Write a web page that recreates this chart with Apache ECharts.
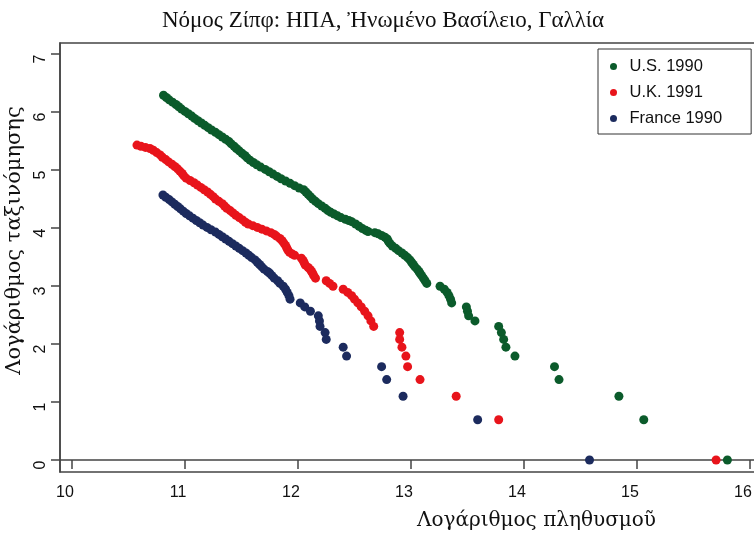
<!DOCTYPE html>
<html><head><meta charset="utf-8">
<script src="https://cdn.jsdelivr.net/npm/echarts@6/dist/echarts.min.js"></script>
<style>html,body{margin:0;padding:0;background:#fff}#c{width:754px;height:535px}</style>
</head><body><div id="c"></div>
<script>
const titleText = 'Νόμος Ζίπφ: ΗΠΑ, Ἠνωμένο Βασίλειο, Γαλλία';
const xName = 'Λογάριθμος πληθυσμοῦ';
const yName = 'Λογάριθμος ταξινόμησης';
const seriesNames = ['U.S. 1990', 'U.K. 1991', 'France 1990'];
const xTicks = [10, 11, 12, 13, 14, 15, 16];
const yTicks = [0, 1, 2, 3, 4, 5, 6, 7];

// [log population, log rank]
const usData = [[10.81,6.29],[10.835,6.25],[10.86,6.21],[10.89,6.17],[10.92,6.13],[10.945,6.09],[10.97,6.05],[11.00,6.01],[11.03,5.97],[11.06,5.93],[11.085,5.89],[11.115,5.85],[11.145,5.81],[11.175,5.77],[11.205,5.73],[11.235,5.69],[11.27,5.65],[11.30,5.61],[11.33,5.57],[11.36,5.53],[11.39,5.49],[11.41,5.45],[11.435,5.41],[11.455,5.37],[11.48,5.33],[11.505,5.29],[11.53,5.25],[11.55,5.21],[11.575,5.17],[11.605,5.13],[11.635,5.09],[11.67,5.05],[11.71,5.01],[11.745,4.97],[11.78,4.93],[11.815,4.89],[11.85,4.85],[11.89,4.81],[11.93,4.77],[11.97,4.73],[12.01,4.69],[12.05,4.66],[12.07,4.62],[12.09,4.58],[12.11,4.54],[12.13,4.50],[12.155,4.46],[12.18,4.42],[12.21,4.38],[12.24,4.34],[12.265,4.30],[12.29,4.27],[12.32,4.24],[12.35,4.21],[12.38,4.18],[12.42,4.15],[12.45,4.13],[12.475,4.11],[12.51,4.07],[12.54,4.03],[12.57,3.99],[12.60,3.96],[12.62,3.94],[12.68,3.92],[12.71,3.90],[12.74,3.87],[12.77,3.84],[12.79,3.81],[12.80,3.77],[12.815,3.73],[12.835,3.69],[12.865,3.65],[12.89,3.61],[12.92,3.57],[12.945,3.53],[12.97,3.49],[12.99,3.45],[13.005,3.41],[13.02,3.37],[13.035,3.33],[13.055,3.29],[13.07,3.25],[13.08,3.219],[13.095,3.178],[13.11,3.135],[13.125,3.091],[13.14,3.045],[13.257,2.996],[13.295,2.944],[13.32,2.890],[13.336,2.833],[13.35,2.773],[13.36,2.708],[13.49,2.639],[13.50,2.565],[13.51,2.485],[13.566,2.398],[13.776,2.303],[13.80,2.197],[13.82,2.079],[13.84,1.946],[13.92,1.792],[14.27,1.609],[14.31,1.386],[14.84,1.099],[15.06,0.693],[15.80,0]];

const ukData = [[10.575,5.43],[10.61,5.41],[10.65,5.39],[10.69,5.37],[10.72,5.34],[10.75,5.30],[10.78,5.26],[10.80,5.22],[10.83,5.18],[10.855,5.14],[10.885,5.10],[10.91,5.06],[10.935,5.02],[10.955,4.98],[10.975,4.94],[10.99,4.90],[11.01,4.86],[11.045,4.82],[11.08,4.78],[11.11,4.74],[11.14,4.70],[11.17,4.66],[11.20,4.62],[11.225,4.58],[11.25,4.54],[11.27,4.50],[11.30,4.46],[11.33,4.42],[11.35,4.38],[11.37,4.34],[11.40,4.30],[11.425,4.26],[11.45,4.22],[11.48,4.18],[11.51,4.14],[11.535,4.10],[11.56,4.07],[11.60,4.04],[11.64,4.01],[11.68,3.98],[11.72,3.95],[11.76,3.92],[11.79,3.89],[11.81,3.86],[11.84,3.82],[11.86,3.78],[11.875,3.74],[11.89,3.70],[11.90,3.66],[11.91,3.62],[11.925,3.58],[11.95,3.55],[11.97,3.53],[12.03,3.48],[12.045,3.44],[12.055,3.40],[12.065,3.36],[12.09,3.32],[12.11,3.28],[12.12,3.25],[12.13,3.219],[12.14,3.178],[12.155,3.135],[12.25,3.091],[12.28,3.045],[12.31,2.996],[12.40,2.944],[12.44,2.890],[12.475,2.833],[12.50,2.773],[12.53,2.708],[12.56,2.639],[12.59,2.565],[12.62,2.485],[12.645,2.398],[12.67,2.303],[12.90,2.197],[12.90,2.079],[12.92,1.946],[12.955,1.792],[12.97,1.609],[13.08,1.386],[13.40,1.099],[13.776,0.693],[15.70,0]];

const frData = [[10.805,4.57],[10.83,4.53],[10.86,4.49],[10.885,4.45],[10.91,4.41],[10.935,4.37],[10.96,4.33],[10.985,4.29],[11.01,4.25],[11.04,4.21],[11.07,4.17],[11.10,4.13],[11.13,4.09],[11.16,4.05],[11.195,4.01],[11.23,3.97],[11.27,3.93],[11.30,3.89],[11.33,3.85],[11.36,3.81],[11.39,3.77],[11.42,3.73],[11.45,3.69],[11.48,3.65],[11.51,3.61],[11.54,3.57],[11.565,3.53],[11.59,3.49],[11.62,3.45],[11.64,3.41],[11.66,3.37],[11.68,3.33],[11.70,3.29],[11.73,3.25],[11.75,3.219],[11.77,3.178],[11.79,3.135],[11.82,3.091],[11.84,3.045],[11.87,2.996],[11.89,2.944],[11.905,2.890],[11.92,2.833],[11.93,2.773],[12.02,2.708],[12.06,2.639],[12.11,2.565],[12.18,2.485],[12.19,2.398],[12.195,2.303],[12.24,2.197],[12.25,2.079],[12.40,1.946],[12.43,1.792],[12.74,1.609],[12.785,1.386],[12.93,1.099],[13.59,0.693],[14.58,0]];

const colors = ['#0b5b2b', '#e8141b', '#1c2b5e'];
const serif = '"Liberation Serif", "DejaVu Serif", serif';
const serifAxis = '"DejaVu Serif", "Liberation Serif", serif';
const sans = '"Liberation Sans", Arial, sans-serif';
const axisCol = '#444';

const chart = echarts.init(document.getElementById('c'), null, {renderer: 'canvas'});
chart.setOption({
  animation: false,
  backgroundColor: '#fff',
  color: colors,
  title: {
    text: titleText, left: 378, top: 4, textAlign: 'center',
    textStyle: {fontFamily: serif, fontSize: 23, fontWeight: 'normal', color: '#111'}
  },
  legend: {
    orient: 'vertical', left: 598, top: 49,
    backgroundColor: '#fff', borderColor: '#333', borderWidth: 1,
    padding: [9, 29, 7, 12], itemGap: 9,
    itemWidth: 22, itemHeight: 7, icon: 'circle',
    textStyle: {fontFamily: sans, fontSize: 16.5, color: '#111', lineHeight: 16},
    data: seriesNames
  },
  grid: {left: 60, top: 43, right: -3, bottom: 63, show: true, borderColor: axisCol, borderWidth: 1.5, containLabel: false, outerBoundsMode: 'none'},
  xAxis: {
    type: 'value', min: 9.894, max: 16.062,
    name: xName, nameLocation: 'middle', nameGap: 39,
    nameTextStyle: {fontFamily: serifAxis, fontSize: 20, color: '#111', padding: [0, 0, 0, 256]},
    axisLine: {show: true, lineStyle: {color: axisCol, width: 1.5}},
    axisTick: {show: true, customValues: xTicks, length: 9, lineStyle: {color: axisCol, width: 1.5}},
    axisLabel: {customValues: xTicks, margin: 13, fontFamily: sans, fontSize: 16, color: '#111', padding: [0, 14, 0, 0]},
    splitLine: {show: false}
  },
  yAxis: {
    type: 'value', min: -0.207, max: 7.19,
    name: yName, nameLocation: 'middle', nameGap: 25, nameRotate: 90,
    nameTextStyle: {fontFamily: serifAxis, fontSize: 21, color: '#111', padding: [0, 0, 0, 34]},
    axisLine: {show: true, lineStyle: {color: axisCol, width: 1.5}},
    axisTick: {show: true, customValues: yTicks, length: 9, lineStyle: {color: axisCol, width: 1.5}},
    axisLabel: {customValues: yTicks, rotate: 90, margin: 11, fontFamily: sans, fontSize: 16, color: '#111', padding: [0, 10, 0, 0]},
    splitLine: {show: false}
  },
  series: [
    {name: seriesNames[0], type: 'scatter', data: usData, symbol: 'circle', symbolSize: 9, itemStyle: {color: colors[0], opacity: 1}},
    {name: seriesNames[1], type: 'scatter', data: ukData, symbol: 'circle', symbolSize: 9, itemStyle: {color: colors[1], opacity: 1}},
    {name: seriesNames[2], type: 'scatter', data: frData, symbol: 'circle', symbolSize: 9, itemStyle: {color: colors[2], opacity: 1}}
  ]
});
</script></body></html>
